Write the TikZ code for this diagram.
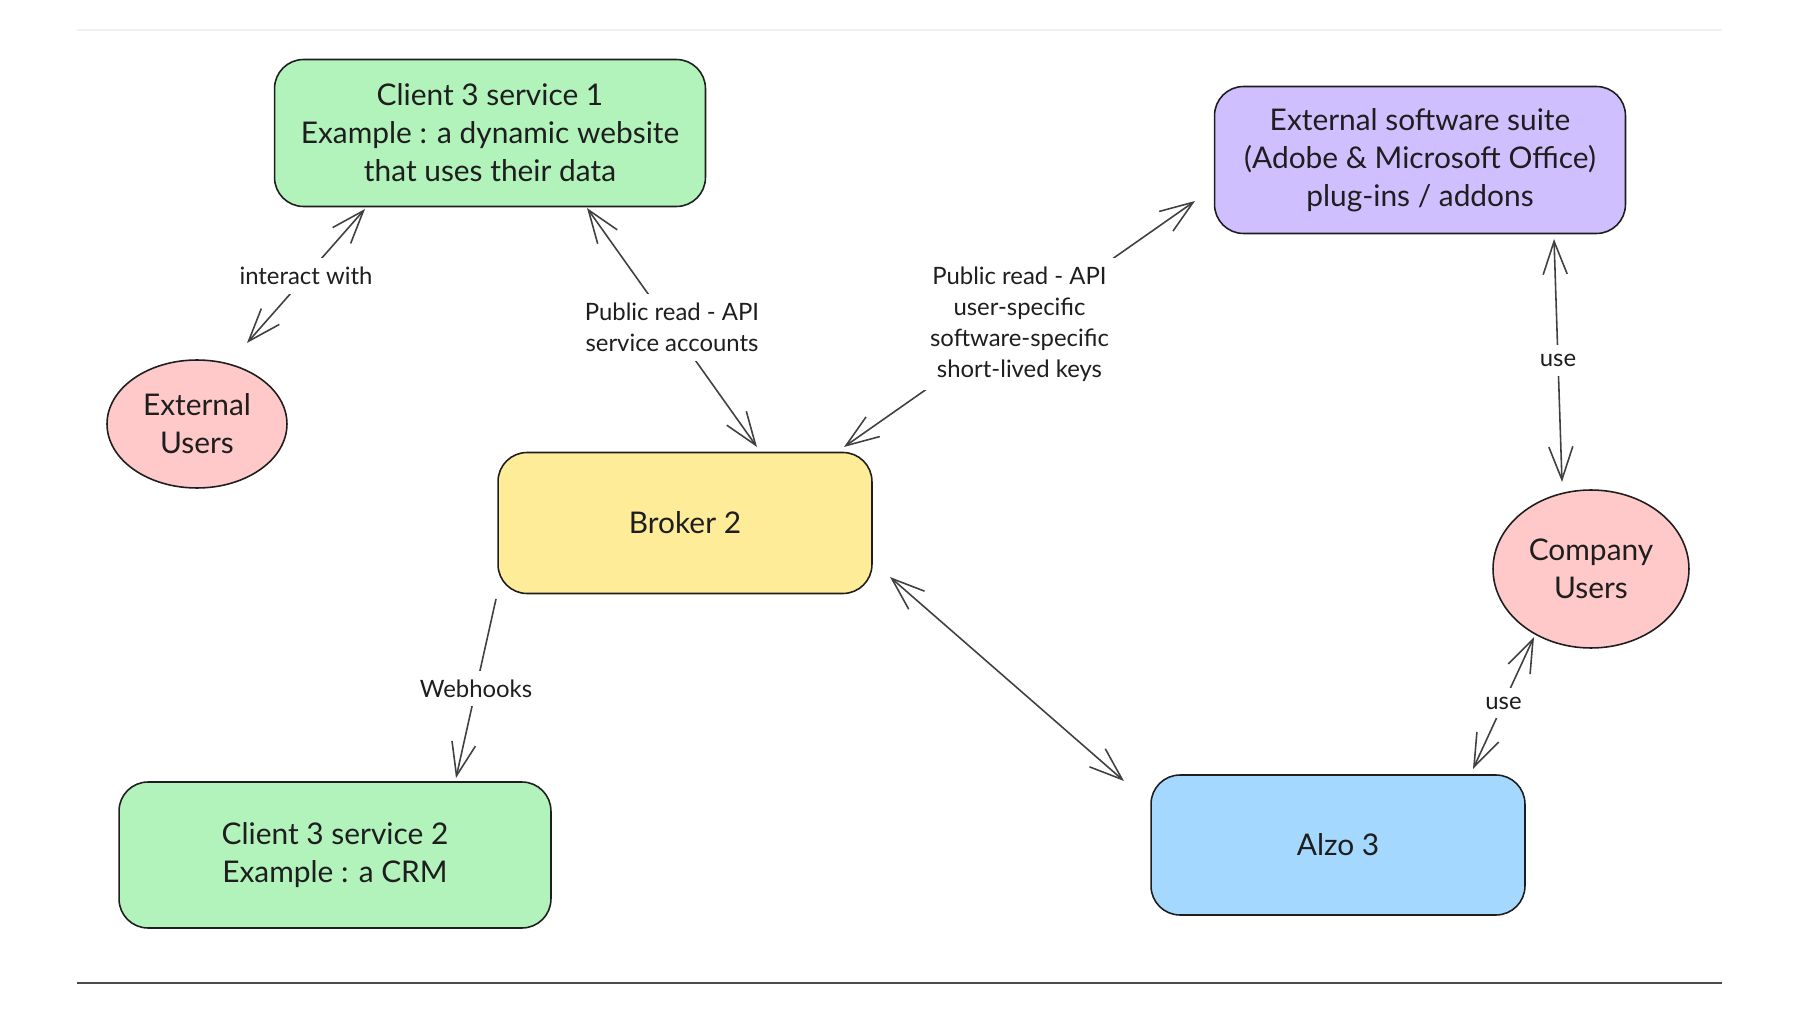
\documentclass[tikz,border=0pt]{standalone}
\usepackage{fontspec}
\setmainfont{Lato}
\usetikzlibrary{arrows.meta,calc,shapes.geometric}
\definecolor{ink}{HTML}{1E1E1E}
\definecolor{cgreen}{HTML}{B2F2BB}
\definecolor{cviolet}{HTML}{D0BFFF}
\definecolor{cpink}{HTML}{FFC9C9}
\definecolor{cyellow}{HTML}{FFEC99}
\definecolor{cblue}{HTML}{A5D8FF}

\begin{document}
\begin{tikzpicture}[x = 0.02cm, y = -0.02cm,
		box/.style = {draw = ink, line width = 0.9pt, rounded corners = 0.58cm, align = center, text = ink, font = \fontsize{17}{21.6}\selectfont},
		user/.style = {ellipse, draw = ink, line width = 0.9pt, fill = cpink, inner sep = 0pt, align = center, text = ink, font = \fontsize{17}{21.6}\selectfont},
		link/.style = {draw = ink!85, line width = 0.9pt, >= {Straight Barb[length = 6.6mm, width = 4.8mm]}},
		lbl/.style = {fill = white, inner sep = 5pt, align = center, text = ink, font = \fontsize{13.6}{17.6}\selectfont}]
		\useasboundingbox (0, 0) rectangle (1800, 1013);
		\draw [gray!12, line width = 1pt] (77, 30) -- (1722, 30);
		\draw [ink!80, line width = 1.2pt] (77, 983) -- (1722, 983);

		\node [box, fill = cgreen, minimum width = 8.62cm, minimum height = 2.94cm] (client1) at (490, 133) {Client 3 service 1\\Example : a dynamic website\\that uses their data};
		\node [box, fill = cviolet, minimum width = 8.22cm, minimum height = 2.94cm] (suite) at (1420, 160) {External software suite\\(Adobe \& Microsoft Office)\\plug-ins / addons};
		\node [user, minimum width = 3.6cm, minimum height = 2.56cm] (extusers) at (197, 424) {External\\Users};
		\node [box, fill = cyellow, minimum width = 7.48cm, minimum height = 2.82cm] (broker) at (685, 523) {Broker 2};
		\node [user, minimum width = 3.92cm, minimum height = 3.16cm] (compusers) at (1591, 569) {Company\\Users};
		\node [box, fill = cgreen, minimum width = 8.64cm, minimum height = 2.92cm] (client2) at (335, 855) {Client 3 service 2\\Example : a CRM};
		\node [box, fill = cblue, minimum width = 7.48cm, minimum height = 2.8cm] (alzo) at (1338, 845) {Alzo 3};

		\draw [link, <->] ($(client1) + (-125, 76)$) -- node [lbl] {interact with} ($(extusers) + (50, -81)$);
		\draw [link, <->] ($(client1) + (97, 75)$) -- node [lbl] {Public read - API\\service accounts} ($(broker) + (72, -76)$);
		\draw [link, <->] ($(suite) + (-225, 41)$) -- node [lbl] {Public read - API\\user-specific\\software-specific\\short-lived keys} ($(broker) + (159, -76)$);
		\draw [link, <->] ($(suite) + (134, 79)$) -- node [lbl] {use} ($(compusers) + (-29, -87)$);
		\draw [link, ->] ($(broker) + (-189, 76)$) -- node [lbl] {Webhooks} ($(client2) + (121, -77)$);
		\draw [link, <->] ($(broker) + (205, 54)$) -- ($(alzo) + (-214, -64)$);
		\draw [link, <->] ($(compusers) + (-57, 68)$) -- node [lbl] {use} ($(alzo) + (135, -76)$);
	\end{tikzpicture}
\end{document}
